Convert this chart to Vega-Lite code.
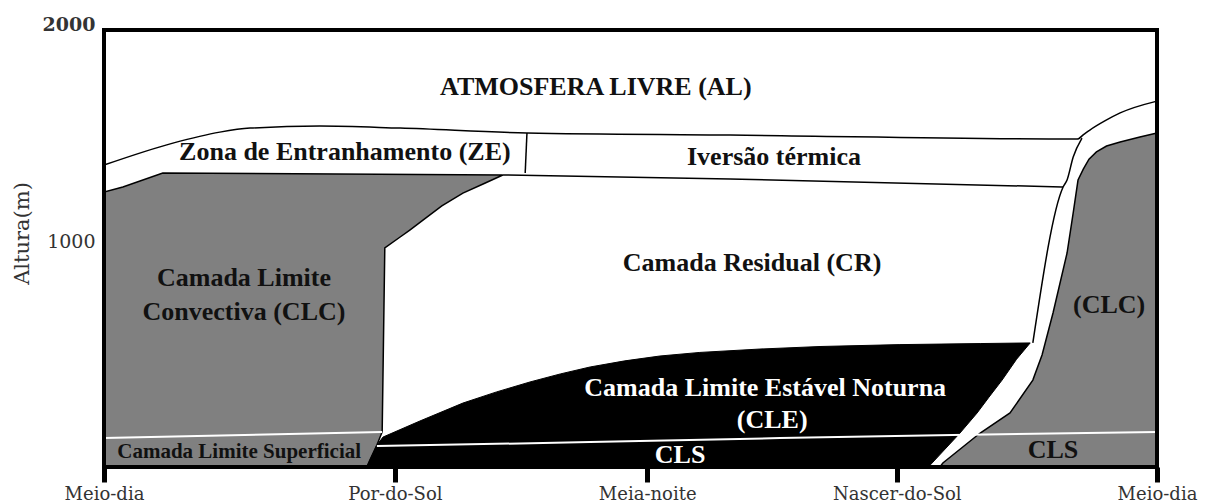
{
  "$schema": "https://vega.github.io/schema/vega-lite/v6.json",
  "width": 1053,
  "height": 437,
  "autosize": {"type": "none"},
  "padding": {"left": 104, "top": 30, "right": 51, "bottom": 35},
  "background": "white",
  "config": {"view": {"stroke": null}},
  "datasets": {
    "regioes": [
      {"regiao": "CLC_tarde", "i": 1, "t": 0, "h": -71},
      {"regiao": "CLC_tarde", "i": 2, "t": 0, "h": 1232},
      {"regiao": "CLC_tarde", "i": 3, "t": 0.43, "h": 1256},
      {"regiao": "CLC_tarde", "i": 4, "t": 1.34, "h": 1322},
      {"regiao": "CLC_tarde", "i": 5, "t": 9.09, "h": 1313},
      {"regiao": "CLC_tarde", "i": 6, "t": 8.64, "h": 1270},
      {"regiao": "CLC_tarde", "i": 7, "t": 8.18, "h": 1227},
      {"regiao": "CLC_tarde", "i": 8, "t": 7.70, "h": 1166},
      {"regiao": "CLC_tarde", "i": 9, "t": 7.27, "h": 1099},
      {"regiao": "CLC_tarde", "i": 10, "t": 6.97, "h": 1052},
      {"regiao": "CLC_tarde", "i": 11, "t": 6.75, "h": 1019},
      {"regiao": "CLC_tarde", "i": 12, "t": 6.40, "h": 967},
      {"regiao": "CLC_tarde", "i": 13, "t": 6.34, "h": 95},
      {"regiao": "CLC_tarde", "i": 14, "t": 6.22, "h": 33},
      {"regiao": "CLC_tarde", "i": 15, "t": 6.06, "h": -38},
      {"regiao": "CLC_tarde", "i": 16, "t": 5.99, "h": -71},
      {"regiao": "CLE", "i": 1, "t": 5.99, "h": -71},
      {"regiao": "CLE", "i": 2, "t": 6.22, "h": 33},
      {"regiao": "CLE", "i": 3, "t": 6.36, "h": 71},
      {"regiao": "CLE", "i": 4, "t": 7.20, "h": 147},
      {"regiao": "CLE", "i": 5, "t": 8.18, "h": 232},
      {"regiao": "CLE", "i": 6, "t": 8.95, "h": 285},
      {"regiao": "CLE", "i": 7, "t": 9.71, "h": 332},
      {"regiao": "CLE", "i": 8, "t": 10.40, "h": 370},
      {"regiao": "CLE", "i": 9, "t": 11.08, "h": 403},
      {"regiao": "CLE", "i": 10, "t": 11.87, "h": 432},
      {"regiao": "CLE", "i": 11, "t": 12.67, "h": 455},
      {"regiao": "CLE", "i": 12, "t": 13.58, "h": 472},
      {"regiao": "CLE", "i": 13, "t": 14.95, "h": 488},
      {"regiao": "CLE", "i": 14, "t": 16.32, "h": 500},
      {"regiao": "CLE", "i": 15, "t": 18.14, "h": 509},
      {"regiao": "CLE", "i": 16, "t": 19.97, "h": 514},
      {"regiao": "CLE", "i": 17, "t": 21.11, "h": 517},
      {"regiao": "CLE", "i": 18, "t": 20.80, "h": 440},
      {"regiao": "CLE", "i": 19, "t": 20.47, "h": 341},
      {"regiao": "CLE", "i": 20, "t": 20.17, "h": 260},
      {"regiao": "CLE", "i": 21, "t": 19.90, "h": 185},
      {"regiao": "CLE", "i": 22, "t": 19.51, "h": 90},
      {"regiao": "CLE", "i": 23, "t": 18.83, "h": -62},
      {"regiao": "CLE", "i": 24, "t": 18.78, "h": -71},
      {"regiao": "CLC_manha", "i": 1, "t": 24, "h": 1512},
      {"regiao": "CLC_manha", "i": 2, "t": 23.61, "h": 1493},
      {"regiao": "CLC_manha", "i": 3, "t": 23.16, "h": 1469},
      {"regiao": "CLC_manha", "i": 4, "t": 22.85, "h": 1450},
      {"regiao": "CLC_manha", "i": 5, "t": 22.62, "h": 1422},
      {"regiao": "CLC_manha", "i": 6, "t": 22.45, "h": 1388},
      {"regiao": "CLC_manha", "i": 7, "t": 22.32, "h": 1341},
      {"regiao": "CLC_manha", "i": 8, "t": 22.20, "h": 1289},
      {"regiao": "CLC_manha", "i": 9, "t": 22.09, "h": 1133},
      {"regiao": "CLC_manha", "i": 10, "t": 21.95, "h": 943},
      {"regiao": "CLC_manha", "i": 11, "t": 21.63, "h": 659},
      {"regiao": "CLC_manha", "i": 12, "t": 21.38, "h": 460},
      {"regiao": "CLC_manha", "i": 13, "t": 21.17, "h": 341},
      {"regiao": "CLC_manha", "i": 14, "t": 20.65, "h": 185},
      {"regiao": "CLC_manha", "i": 15, "t": 19.97, "h": 90},
      {"regiao": "CLC_manha", "i": 16, "t": 19.12, "h": -52},
      {"regiao": "CLC_manha", "i": 17, "t": 19.05, "h": -71},
      {"regiao": "CLC_manha", "i": 18, "t": 24, "h": -71}
    ],
    "linhas_pretas": [
      {"linha": "topo", "i": 1, "t": 0, "h": 1360},
      {"linha": "topo", "i": 2, "t": 1.57, "h": 1464},
      {"linha": "topo", "i": 3, "t": 2.64, "h": 1516},
      {"linha": "topo", "i": 4, "t": 3.33, "h": 1535},
      {"linha": "topo", "i": 5, "t": 4.92, "h": 1545},
      {"linha": "topo", "i": 6, "t": 6.75, "h": 1535},
      {"linha": "topo", "i": 7, "t": 9.64, "h": 1512},
      {"linha": "topo", "i": 8, "t": 14.27, "h": 1502},
      {"linha": "topo", "i": 9, "t": 22.18, "h": 1483},
      {"linha": "topo", "i": 10, "t": 22.34, "h": 1507},
      {"linha": "topo", "i": 11, "t": 22.47, "h": 1526},
      {"linha": "topo", "i": 12, "t": 22.81, "h": 1569},
      {"linha": "topo", "i": 13, "t": 23.16, "h": 1607},
      {"linha": "topo", "i": 14, "t": 24, "h": 1663},
      {"linha": "divisoria", "i": 1, "t": 9.64, "h": 1512},
      {"linha": "divisoria", "i": 2, "t": 9.60, "h": 1322},
      {"linha": "base_inversao", "i": 1, "t": 9.09, "h": 1313},
      {"linha": "base_inversao", "i": 2, "t": 14.27, "h": 1294},
      {"linha": "base_inversao", "i": 3, "t": 21.86, "h": 1256},
      {"linha": "limite_CR", "i": 1, "t": 22.29, "h": 1488},
      {"linha": "limite_CR", "i": 2, "t": 22.09, "h": 1398},
      {"linha": "limite_CR", "i": 3, "t": 21.95, "h": 1289},
      {"linha": "limite_CR", "i": 4, "t": 21.86, "h": 1256},
      {"linha": "limite_CR", "i": 5, "t": 21.17, "h": 517}
    ],
    "linhas_brancas": [
      {"linha": "CLS_tarde", "i": 1, "t": 0, "h": 66},
      {"linha": "CLS_tarde", "i": 2, "t": 6.34, "h": 95},
      {"linha": "CLS_noite", "i": 1, "t": 6.22, "h": 28},
      {"linha": "CLS_noite", "i": 2, "t": 11.08, "h": 47},
      {"linha": "CLS_noite", "i": 3, "t": 15.41, "h": 66},
      {"linha": "CLS_noite", "i": 4, "t": 19.35, "h": 81},
      {"linha": "CLS_noite", "i": 5, "t": 24, "h": 95}
    ],
    "moldura": [
      {"i": 1, "t": 0, "h": -71},
      {"i": 2, "t": 0, "h": 2000},
      {"i": 3, "t": 24, "h": 2000},
      {"i": 4, "t": 24, "h": -71}
    ],
    "rotulos_escuros": [
      {"rotulo": "ATMOSFERA LIVRE (AL)", "t": 11.21, "h": 1730},
      {"rotulo": "Zona de Entranhamento (ZE)", "t": 5.49, "h": 1422},
      {"rotulo": "Iversão térmica", "t": 15.27, "h": 1398},
      {"rotulo": "Camada Residual (CR)", "t": 14.77, "h": 896},
      {"rotulo": "Camada Limite", "t": 3.19, "h": 825},
      {"rotulo": "Convectiva (CLC)", "t": 3.19, "h": 663},
      {"rotulo": "(CLC)", "t": 22.91, "h": 697},
      {"rotulo": "CLS", "t": 21.63, "h": 9}
    ],
    "rotulos_claros": [
      {"rotulo": "Camada Limite Estável Noturna", "t": 15.07, "h": 303},
      {"rotulo": "(CLE)", "t": 15.23, "h": 152},
      {"rotulo": "CLS", "t": 13.13, "h": -14}
    ],
    "rotulo_superficial": [
      {"rotulo": "Camada Limite Superficial", "t": 3.08, "h": 0}
    ]
  },
  "encoding": {
    "x": {
      "field": "t",
      "type": "quantitative",
      "scale": {"domain": [0, 24], "nice": false, "zero": false},
      "axis": {
        "values": [0, 6.63, 12.38, 18.07, 24],
        "labelExpr": "datum.value == 0 || datum.value == 24 ? 'Meio-dia' : datum.value < 10 ? 'Por-do-Sol' : datum.value < 15 ? 'Meia-noite' : 'Nascer-do-Sol'",
        "title": null,
        "domain": false,
        "grid": false,
        "ticks": true,
        "tickSize": 15,
        "tickWidth": 5,
        "tickColor": "black",
        "labelBaseline": "alphabetic",
        "labelPadding": 17,
        "labelFont": "DejaVu Serif",
        "labelFontSize": 18,
        "labelColor": "#333333",
        "labelFlush": false,
        "labelOverlap": false
      }
    },
    "y": {
      "field": "h",
      "type": "quantitative",
      "scale": {"domain": [-71, 2000], "nice": false, "zero": false},
      "axis": {
        "values": [1000, 2000],
        "format": "d",
        "title": "Altura(m)",
        "domain": false,
        "grid": false,
        "ticks": false,
        "labelPadding": 9,
        "labelFont": "DejaVu Serif",
        "labelFontSize": 19,
        "labelColor": "#333333",
        "labelFontWeight": {"condition": {"test": "datum.value == 2000", "value": "bold"}, "value": "normal"},
        "labelBaseline": {"condition": {"test": "datum.value == 2000", "value": "alphabetic"}, "value": "middle"},
        "titleFont": "DejaVu Serif",
        "titleFontSize": 21,
        "titleFontWeight": "normal",
        "titleColor": "#333333",
        "titleX": -82,
        "titleY": 203,
        "titleAngle": 270,
        "titleAlign": "center",
        "titleBaseline": "middle"
      }
    }
  },
  "layer": [
    {
      "data": {"name": "regioes"},
      "transform": [{"filter": "datum.regiao == 'CLC_tarde'"}],
      "mark": {"type": "line", "fill": "#808080", "stroke": "black", "strokeWidth": 1.5, "interpolate": "linear-closed"},
      "encoding": {"order": {"field": "i", "type": "quantitative"}}
    },
    {
      "data": {"name": "regioes"},
      "transform": [{"filter": "datum.regiao == 'CLE'"}],
      "mark": {"type": "line", "fill": "black", "stroke": "black", "strokeWidth": 1, "interpolate": "linear-closed"},
      "encoding": {"order": {"field": "i", "type": "quantitative"}}
    },
    {
      "data": {"name": "regioes"},
      "transform": [{"filter": "datum.regiao == 'CLC_manha'"}],
      "mark": {"type": "line", "fill": "#808080", "stroke": "black", "strokeWidth": 1.5, "interpolate": "linear-closed"},
      "encoding": {"order": {"field": "i", "type": "quantitative"}}
    },
    {
      "data": {"name": "linhas_pretas"},
      "mark": {"type": "line", "stroke": "black", "strokeWidth": 1.5, "interpolate": "monotone"},
      "encoding": {
        "detail": {"field": "linha", "type": "nominal"},
        "order": {"field": "i", "type": "quantitative"}
      }
    },
    {
      "data": {"name": "linhas_brancas"},
      "mark": {"type": "line", "stroke": "white", "strokeWidth": 2},
      "encoding": {
        "detail": {"field": "linha", "type": "nominal"},
        "order": {"field": "i", "type": "quantitative"}
      }
    },
    {
      "data": {"name": "rotulos_escuros"},
      "mark": {"type": "text", "font": "Liberation Serif", "fontWeight": "bold", "fontSize": 26, "color": "#111111", "align": "center", "baseline": "middle"},
      "encoding": {"text": {"field": "rotulo", "type": "nominal"}}
    },
    {
      "data": {"name": "rotulo_superficial"},
      "mark": {"type": "text", "font": "Liberation Serif", "fontWeight": "bold", "fontSize": 21, "color": "#111111", "align": "center", "baseline": "middle"},
      "encoding": {"text": {"field": "rotulo", "type": "nominal"}}
    },
    {
      "data": {"name": "rotulos_claros"},
      "mark": {"type": "text", "font": "Liberation Serif", "fontWeight": "bold", "fontSize": 26, "color": "white", "align": "center", "baseline": "middle"},
      "encoding": {"text": {"field": "rotulo", "type": "nominal"}}
    },
    {
      "data": {"name": "moldura"},
      "mark": {"type": "line", "stroke": "black", "strokeWidth": 4, "strokeJoin": "miter", "interpolate": "linear-closed"},
      "encoding": {"order": {"field": "i", "type": "quantitative"}}
    }
  ]
}
